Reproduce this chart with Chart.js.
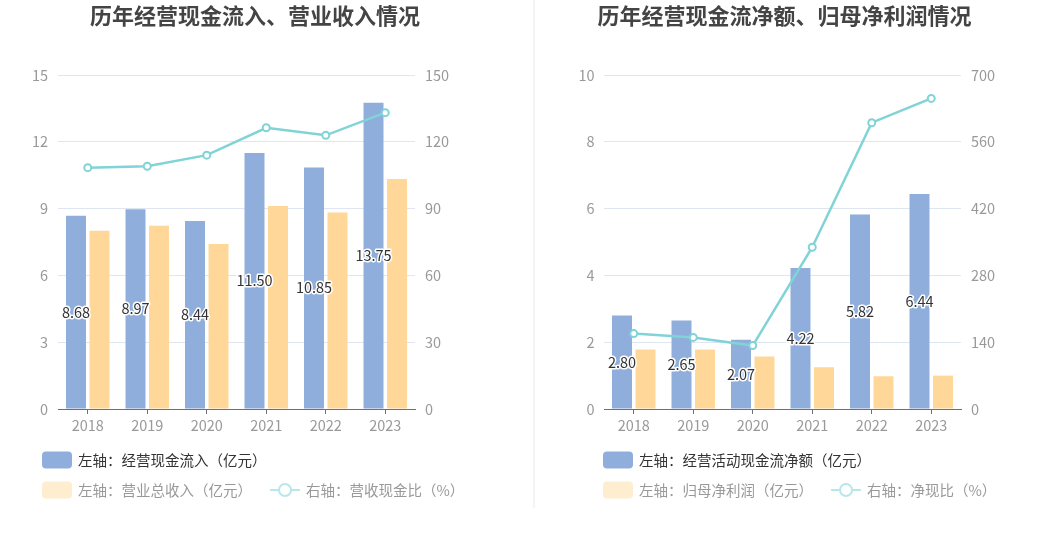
<!DOCTYPE html>
<html><head><meta charset="utf-8">
<script src="https://cdn.jsdelivr.net/npm/chart.js@4.4.1/dist/chart.umd.min.js"></script>
<style>
html,body{margin:0;padding:0;background:#fff;width:1062px;height:546px;overflow:hidden;}
#wa{position:absolute;left:0;top:0;width:510px;height:546px;}
#wb{position:absolute;left:534px;top:0;width:501px;height:546px;}
#sep{position:absolute;left:533px;top:0;width:2px;height:508px;background:#f4f4f4;}
</style></head><body>
<div id="wa"><canvas id="ca"></canvas></div>
<div id="sep"></div>
<div id="wb"><canvas id="cb"></canvas></div>
<script>
// ---- data ----
const years = ['2018','2019','2020','2021','2022','2023'];
// left chart
const cashInflow = [8.68, 8.97, 8.44, 11.50, 10.85, 13.75];
const revenue    = [8.01, 8.23, 7.41, 9.12, 8.83, 10.33];
const cashRatio  = [108.4, 109.0, 114.0, 126.3, 122.9, 133.1];
const leftTicksA  = [0, 3, 6, 9, 12, 15];
const rightTicksA = [0, 30, 60, 90, 120, 150];
// right chart
const netCashFlow = [2.80, 2.65, 2.07, 4.22, 5.82, 6.44];
const netProfit   = [1.78, 1.78, 1.57, 1.25, 0.98, 1.00];
const netRatio    = [158, 150, 133, 339, 600, 651];
const leftTicksB  = [0, 2, 4, 6, 8, 10];
const rightTicksB = [0, 140, 280, 420, 560, 700];

const FONT = '"Noto Sans CJK SC", "Noto Sans", sans-serif';
const BLUE = '#8FAEDB', ORANGE = '#FFD899', TEAL = '#80D3D7';

const barLabels = {
  id: 'barLabels',
  afterDatasetsDraw(chart) {
    const ctx = chart.ctx;
    const idx = chart.data.datasets.findIndex(d => d.labelBars);
    if (idx < 0) return;
    const meta = chart.getDatasetMeta(idx);
    ctx.save();
    ctx.font = '14.5px ' + FONT;
    ctx.textAlign = 'center';
    ctx.textBaseline = 'middle';
    ctx.lineJoin = 'round';
    meta.data.forEach((el, i) => {
      const v = chart.data.datasets[idx].data[i];
      const t = v.toFixed(2);
      const y = (el.y + el.base) / 2;
      ctx.lineWidth = 3;
      ctx.strokeStyle = '#fff';
      ctx.strokeText(t, el.x, y);
      ctx.fillStyle = '#333';
      ctx.fillText(t, el.x, y);
    });
    ctx.restore();
  }
};

function rr(ctx, x, y, w, h, r) {
  ctx.beginPath();
  ctx.moveTo(x + r, y);
  ctx.lineTo(x + w - r, y); ctx.quadraticCurveTo(x + w, y, x + w, y + r);
  ctx.lineTo(x + w, y + h - r); ctx.quadraticCurveTo(x + w, y + h, x + w - r, y + h);
  ctx.lineTo(x + r, y + h); ctx.quadraticCurveTo(x, y + h, x, y + h - r);
  ctx.lineTo(x, y + r); ctx.quadraticCurveTo(x, y, x + r, y);
  ctx.closePath();
}

const customLegend = {
  id: 'customLegend',
  afterDraw(chart, args, opts) {
    if (!opts || !opts.rows) return;
    const ctx = chart.ctx;
    ctx.save();
    ctx.font = '14.5px ' + FONT;
    ctx.textBaseline = 'middle';
    ctx.textAlign = 'left';
    opts.rows.forEach(row => {
      let x = opts.x;
      row.forEach(it => {
        const ds = chart.data.datasets[it.index];
        const y = it.y;
        if (it.type === 'box') {
          rr(ctx, x, y - 8.5, 30, 17, 4);
          ctx.fillStyle = it.color;
          ctx.fill();
        } else {
          ctx.strokeStyle = it.color;
          ctx.lineWidth = 2;
          ctx.beginPath(); ctx.moveTo(x, y); ctx.lineTo(x + 30, y); ctx.stroke();
          ctx.beginPath(); ctx.arc(x + 15, y, 6, 0, Math.PI * 2);
          ctx.fillStyle = '#fff'; ctx.fill(); ctx.stroke();
        }
        ctx.fillStyle = it.textColor;
        ctx.fillText(ds.label, x + 36, y);
        x += 36 + ctx.measureText(ds.label).width + 18;
      });
    });
    ctx.restore();
  }
};

function makeChart(id, cfg) {
  return new Chart(document.getElementById(id), {
    type: 'bar',
    data: {
      labels: years,
      datasets: [
        { type: 'line', label: cfg.lineLabel, data: cfg.line, yAxisID: 'y1', order: 0,
          borderColor: TEAL, borderWidth: 2.5, pointRadius: 3.5, pointHoverRadius: 3.5,
          pointBorderWidth: 2, pointBackgroundColor: '#fff', pointBorderColor: TEAL, tension: 0 },
        { label: cfg.bar1Label, data: cfg.bar1, backgroundColor: BLUE, yAxisID: 'y', order: 1, labelBars: true,
          categoryPercentage: 0.79, barPercentage: 0.85 },
        { label: cfg.bar2Label, data: cfg.bar2, backgroundColor: ORANGE, yAxisID: 'y', order: 1,
          categoryPercentage: 0.79, barPercentage: 0.85 }
      ]
    },
    options: {
      responsive: true, maintainAspectRatio: false, animation: false,
      layout: { padding: { left: 0, right: 0, top: 0, bottom: 107 } },
      plugins: {
        legend: { display: false },
        tooltip: { enabled: false },
        title: { display: true, text: cfg.title, color: '#444',
          font: { size: 22, weight: 'bold', family: FONT }, padding: { top: 2, bottom: 46.6 } },
        customLegend: { x: cfg.legendX, rows: [
          [{ index: 1, type: 'box', color: BLUE, textColor: '#333', y: 460 }],
          [{ index: 2, type: 'box', color: '#FFEDD0', textColor: '#999', y: 490 },
           { index: 0, type: 'line', color: '#B9E7E9', textColor: '#999', y: 490 }]
        ] }
      },
      scales: {
        x: {
          grid: { display: true, drawOnChartArea: false, drawTicks: true, tickLength: 5, color: '#6E7079', offset: false },
          border: { display: true, color: '#6E7079', width: 1 },
          ticks: { color: '#999', font: { size: 14.5, family: FONT }, padding: 3 },
          afterFit(s) { s.height = 30; }
        },
        y: {
          position: 'left', min: cfg.leftTicks[0], max: cfg.leftTicks[cfg.leftTicks.length - 1],
          afterBuildTicks(s) { s.ticks = cfg.leftTicks.map(v => ({ value: v })); },
          grid: { color: '#E0E6F1', drawTicks: false },
          border: { display: false },
          ticks: { color: '#999', font: { size: 14.5, family: FONT }, padding: cfg.leftPad },
          afterFit(s) { s.width = cfg.leftWidth; }
        },
        y1: {
          position: 'right', min: cfg.rightTicks[0], max: cfg.rightTicks[cfg.rightTicks.length - 1],
          afterBuildTicks(s) { s.ticks = cfg.rightTicks.map(v => ({ value: v })); },
          grid: { drawOnChartArea: false, drawTicks: false },
          border: { display: false },
          ticks: { color: '#999', font: { size: 14.5, family: FONT }, padding: 10 },
          afterFit(s) { s.width = cfg.rightWidth; }
        }
      }
    },
    plugins: [barLabels, customLegend]
  });
}

makeChart('ca', {
  title: '历年经营现金流入、营业收入情况',
  bar1Label: '左轴：经营现金流入（亿元）', bar1: cashInflow,
  bar2Label: '左轴：营业总收入（亿元）', bar2: revenue,
  lineLabel: '右轴：营收现金比（%）', line: cashRatio,
  leftTicks: leftTicksA, rightTicks: rightTicksA,
  leftWidth: 58, leftPad: 10, rightWidth: 95, legendX: 42
});
makeChart('cb', {
  title: '历年经营现金流净额、归母净利润情况',
  bar1Label: '左轴：经营活动现金流净额（亿元）', bar1: netCashFlow,
  bar2Label: '左轴：归母净利润（亿元）', bar2: netProfit,
  lineLabel: '右轴：净现比（%）', line: netRatio,
  leftTicks: leftTicksB, rightTicks: rightTicksB,
  leftWidth: 70, leftPad: 9.5, rightWidth: 74, legendX: 69
});
</script>
</body></html>
